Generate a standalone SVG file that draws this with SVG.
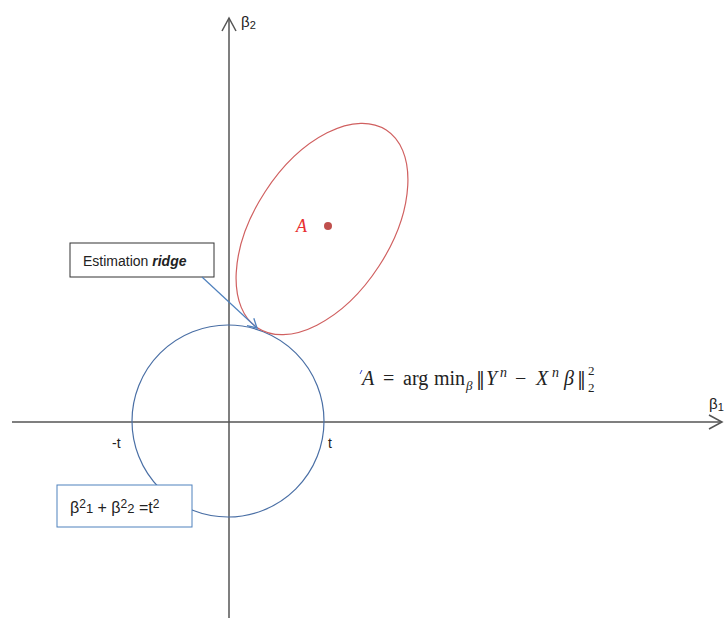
<svg xmlns="http://www.w3.org/2000/svg" width="726" height="618" viewBox="0 0 726 618">
<style>
.axis{stroke:#555;stroke-width:1.5;fill:none}
.lbl{font-family:"Liberation Sans",Arial,sans-serif;fill:#222}
.math{font-family:"Liberation Serif","Times New Roman",serif;fill:#222}
.it{font-style:italic}
.bar{font-family:"DejaVu Serif",serif}
</style>
<defs>
<marker id="ah" markerWidth="12" markerHeight="12" refX="10" refY="6" orient="auto" markerUnits="userSpaceOnUse">
<path d="M1,1 L10,6 L1,11" fill="none" stroke="#4f81bd" stroke-width="1.3"/>
</marker>
</defs>
<rect width="726" height="618" fill="#fff"/>
<g id="axes">
<line class="axis" x1="229" y1="618" x2="229" y2="18"/>
<path class="axis" d="M222,31 L229,18 L236,31"/>
<line class="axis" x1="12" y1="422" x2="722" y2="422"/>
<path class="axis" d="M709,415 L722,422 L709,429"/>
<text class="lbl" x="241" y="27" font-size="15">β<tspan font-size="11" dy="2">2</tspan></text>
<text class="lbl" x="709" y="409" font-size="15">β<tspan font-size="11" dy="2">1</tspan></text>
<text class="lbl" x="112" y="448" font-size="14">-t</text>
<text class="lbl" x="328" y="448" font-size="14">t</text>
</g>
<g id="circle">
<circle cx="228" cy="421" r="96" fill="none" stroke="#4a6fa5" stroke-width="1.2"/>
</g>
<g id="ellipse">
<ellipse cx="322" cy="229" rx="118" ry="68" transform="rotate(-57 322 229)" fill="none" stroke="#d06060" stroke-width="1.2"/>
<circle cx="328" cy="226" r="4" fill="#c0504d"/>
<text x="296" y="232" font-size="18" font-style="italic" font-family="Liberation Serif,Times New Roman,serif" fill="#e83030">A</text>
</g>
<g id="ridge-label">
<rect x="70" y="243" width="144" height="34" fill="#fff" stroke="#333" stroke-width="1"/>
<text class="lbl" x="83" y="266" font-size="14">Estimation <tspan font-weight="bold" font-style="italic">ridge</tspan></text>
</g>
<g id="constraint-label">
<rect x="57" y="485" width="135" height="42" fill="#fff" stroke="#4f81bd" stroke-width="1"/>
<text class="lbl" x="70" y="513" font-size="16">β<tspan font-size="12" dy="-5">2</tspan><tspan font-size="13" dy="5">1</tspan> + β<tspan font-size="12" dy="-5">2</tspan><tspan font-size="13" dy="5">2</tspan> =t<tspan font-size="12" dy="-5">2</tspan></text>
</g>
<g id="formula">
<line x1="360" y1="374" x2="362" y2="370" stroke="#3344cc" stroke-width="1"/>
<text class="math" y="385" font-size="20"><tspan class="it" x="362">A</tspan><tspan x="383">=</tspan><tspan x="403">arg</tspan><tspan x="434">min</tspan><tspan class="it" x="466" y="390" font-size="13">β</tspan><tspan class="bar" x="476" y="385" font-size="18">‖</tspan><tspan class="it" x="486">Y</tspan><tspan class="it" x="500" y="377" font-size="14">n</tspan><tspan x="515" y="385">−</tspan><tspan class="it" x="536">X</tspan><tspan class="it" x="552" y="377" font-size="14">n</tspan><tspan class="it" x="564" y="385">β</tspan><tspan class="bar" x="577" font-size="18">‖</tspan><tspan x="588" y="375" font-size="13">2</tspan><tspan x="588" y="392" font-size="13">2</tspan></text>
</g>
<g id="connectors">
<line x1="202" y1="277" x2="257" y2="328" stroke="#4f81bd" stroke-width="1.2" marker-end="url(#ah)"/>
</g>
</svg>
